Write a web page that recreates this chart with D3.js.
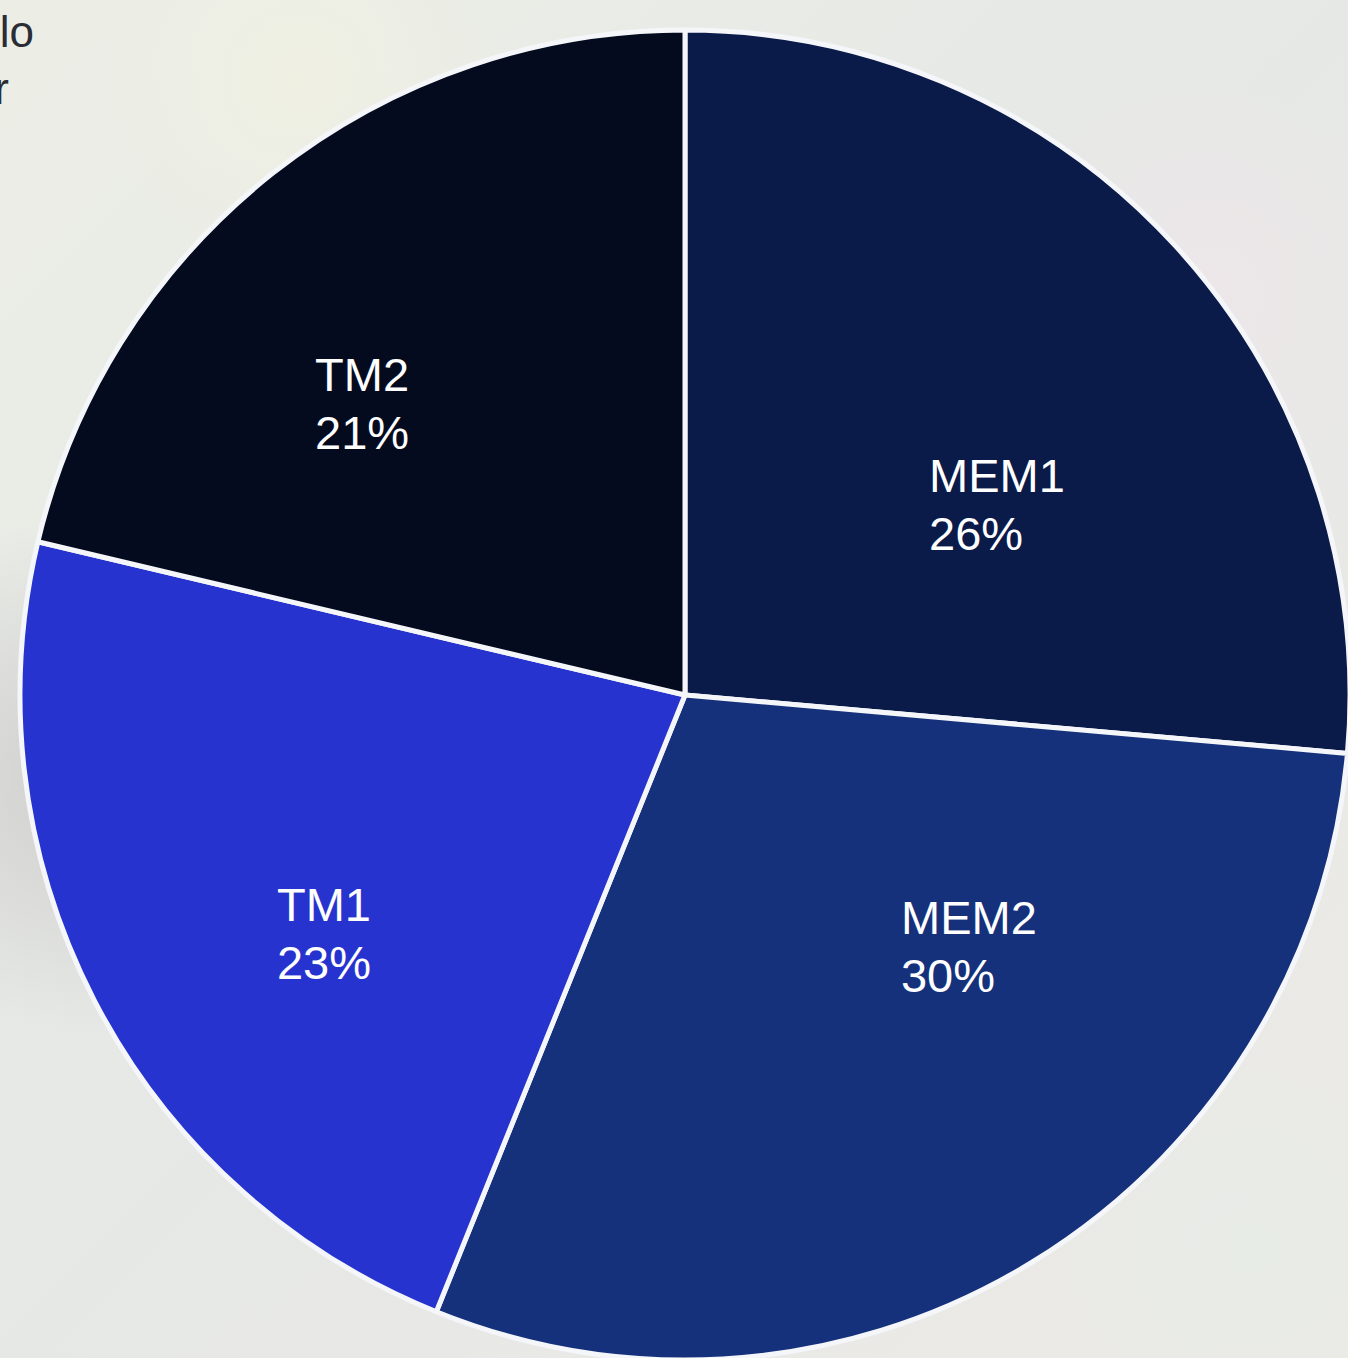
<!DOCTYPE html>
<html><head><meta charset="utf-8">
<script src="https://cdn.jsdelivr.net/npm/d3@7"></script>
<style>html,body{margin:0;padding:0;overflow:hidden;background:#e8e9e5}</style>
</head><body>
<script>
// ---- data ----
const categories = ["MEM1", "MEM2", "TM1", "TM2"];
const values = [26.4, 29.7, 22.6, 21.3];
const colors = ["#0a1a49", "#15317b", "#2733cf", "#050b1f"];

const W = 1348, H = 1358;
const cx = 685, cy = 695, R = 665;

const svg = d3.select("body").append("svg").attr("width", W).attr("height", H);
const defs = svg.append("defs");

// textured light background
const bg = defs.append("linearGradient").attr("id","bg").attr("x1","0").attr("y1","0").attr("x2","1").attr("y2","1");
bg.append("stop").attr("offset","0").attr("stop-color","#eceee6");
bg.append("stop").attr("offset","0.5").attr("stop-color","#e6e8e6");
bg.append("stop").attr("offset","1").attr("stop-color","#eceae6");
svg.append("rect").attr("width",W).attr("height",H).attr("fill","url(#bg)");
const blobs = [[80,780,260,"#c9c9c9"],[1200,300,220,"#efe6ea"],[300,80,200,"#f1f1e2"],[1250,1250,200,"#e6ece6"]];
blobs.forEach((b,i)=>{
  const g = defs.append("radialGradient").attr("id","blob"+i);
  g.append("stop").attr("offset","0").attr("stop-color",b[3]).attr("stop-opacity",0.8);
  g.append("stop").attr("offset","1").attr("stop-color",b[3]).attr("stop-opacity",0);
  svg.append("circle").attr("cx",b[0]).attr("cy",b[1]).attr("r",b[2]).attr("fill","url(#blob"+i+")");
});

// cut-off text at top-left (continues beyond the left edge in the reference)
svg.append("text").attr("x",34).attr("y",47).attr("text-anchor","end")
  .style("font-family","Liberation Sans, Arial, sans-serif").style("font-size","44px").attr("fill","#2a2d33").text("lo");
svg.append("text").attr("x",9).attr("y",104).attr("text-anchor","end")
  .style("font-family","Liberation Sans, Arial, sans-serif").style("font-size","44px").attr("fill","#2a2d33").text("r");

const pie = d3.pie().sort(null).value(d => d)(values);
const arc = d3.arc().innerRadius(0).outerRadius(R);

const g = svg.append("g").attr("transform", `translate(${cx},${cy})`);
g.selectAll("path").data(pie).join("path")
  .attr("d", arc)
  .attr("fill", (d,i) => colors[i])
  .attr("stroke", "#f4f6fa").attr("stroke-width", 5).attr("stroke-linejoin","round");

// label placement: angular nudge (deg) and radius factor per slice (layout only)
const labelAngleNudge = [11, -17, -6, -9.5];
const labelRadius = [0.55, 0.57, 0.65, 0.655];
const fs = 47, lh = 58;
pie.forEach((d,i) => {
  const a = (d.startAngle + d.endAngle)/2 + labelAngleNudge[i]*Math.PI/180;
  const rr = R*labelRadius[i];
  const px = rr*Math.sin(a), py = -rr*Math.cos(a);
  const t = g.append("text")
    .style("font-family","Liberation Sans, Arial, Helvetica, sans-serif")
    .style("font-size", fs+"px").attr("fill","#ffffff");
  const t1 = t.append("tspan").text(categories[i]);
  const t2 = t.append("tspan").text(Math.round(d.value) + "%");
  const w = Math.max(t1.node().getComputedTextLength(), t2.node().getComputedTextLength());
  const x0 = px - w/2;
  const yTop = py - (lh + fs*0.72)/2;
  t1.attr("x", x0).attr("y", yTop + fs*0.72);
  t2.attr("x", x0).attr("y", yTop + fs*0.72 + lh);
});
</script>
</body></html>
